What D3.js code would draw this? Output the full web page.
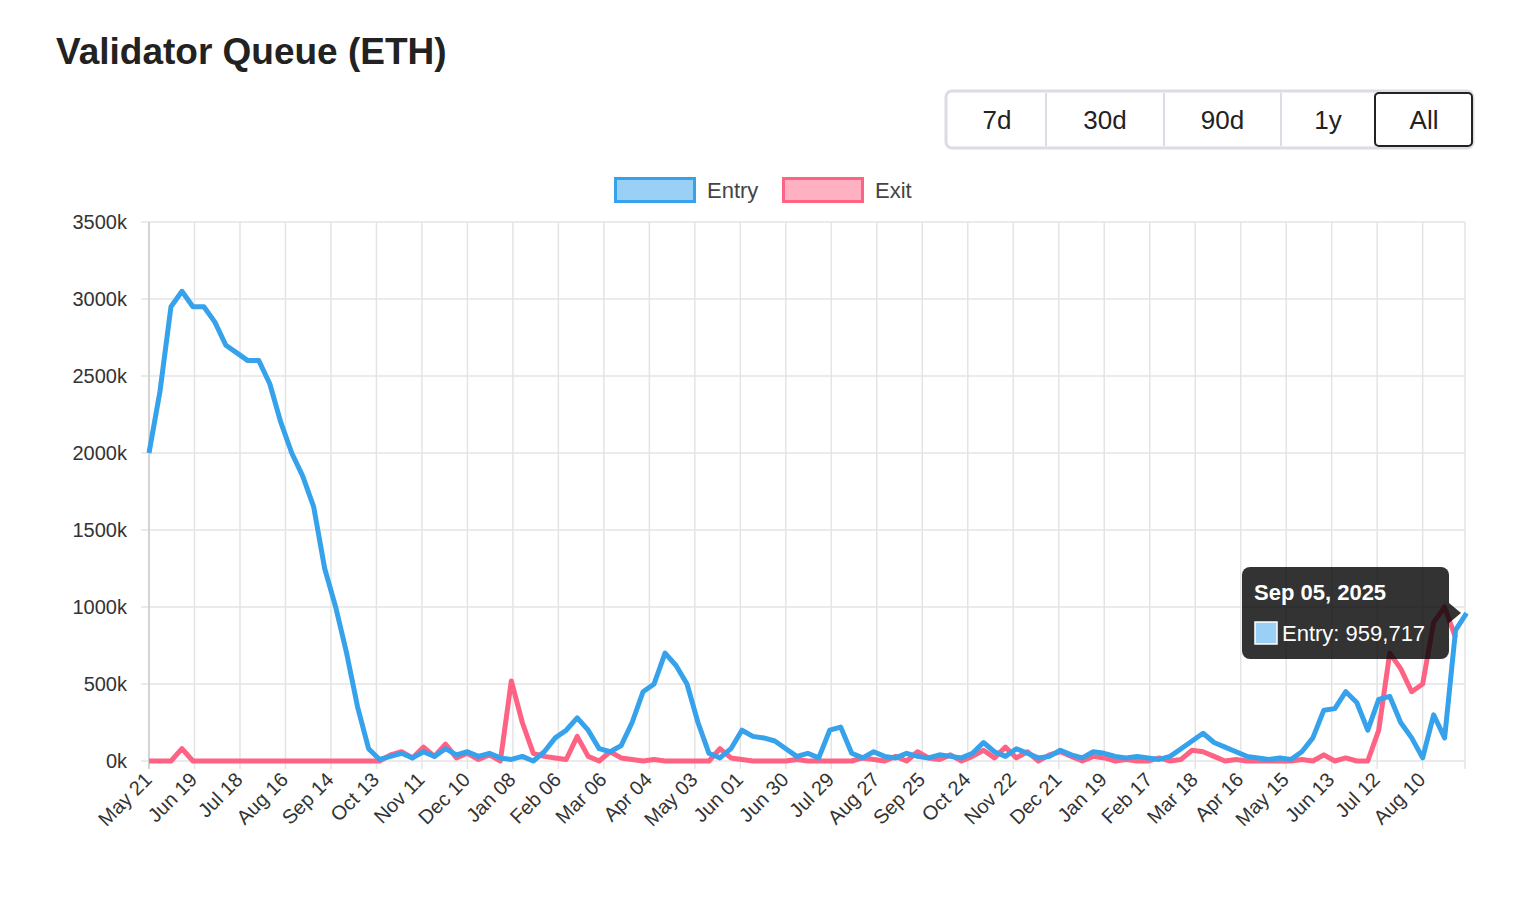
<!DOCTYPE html>
<html><head><meta charset="utf-8">
<script src="https://cdn.jsdelivr.net/npm/d3@7"></script>
<style>body{margin:0;background:#fff;font-family:"Helvetica Neue",Helvetica,Arial,"Liberation Sans",sans-serif;}</style>
</head><body><svg id="c" width="1516" height="898"></svg>
<script>
const startDate = new Date(2023,4,21);
const stepDays = 7;
const entryK = [2000,2400,2950,3050,2950,2950,2850,2700,2650,2600,2600,2450,2200,2000,1850,1650,1250,1000,700,350,80,
10,30,50,20,60,30,80,40,60,30,50,20,10,30,0,60,150,200,280,200,80,60,100,250,450,500,700,620,500,250,50,20,80,200,160,150,130,80,30,50,20,200,220,50,20,60,30,20,50,30,20,40,30,20,50,120,60,30,80,50,20,30,70,40,20,60,50,30,20,30,20,10,30,80,130,180,120,90,60,30,20,10,20,10,60,150,330,340,450,380,200,400,420,250,150,20,300,150,850,960];
const exitK = [0,0,0,80,0,0,0,0,0,0,0,0,0,0,0,0,0,0,0,0,0,
0,40,60,20,90,30,110,20,50,10,40,0,520,250,50,30,20,10,160,30,0,60,20,10,0,10,0,0,0,0,0,80,20,10,0,0,0,0,10,0,0,0,0,0,20,10,0,30,0,60,20,10,40,0,30,70,20,90,20,60,0,40,60,30,0,30,20,0,10,0,0,20,0,10,70,60,30,0,10,0,0,0,0,0,10,0,40,0,20,0,0,200,700,600,450,500,900,1000,800];
const tickLabels = ["May 21","Jun 19","Jul 18","Aug 16","Sep 14","Oct 13","Nov 11","Dec 10","Jan 08","Feb 06","Mar 06","Apr 04","May 03","Jun 01","Jun 30","Jul 29","Aug 27","Sep 25","Oct 24","Nov 22","Dec 21","Jan 19","Feb 17","Mar 18","Apr 16","May 15","Jun 13","Jul 12","Aug 10"];
const yTicks = [0,500,1000,1500,2000,2500,3000,3500];
const ranges = ["7d","30d","90d","1y","All"];

const day = 864e5;
const dates = entryK.map((_,i)=>new Date(+startDate + i*stepDays*day));
const tickDates = tickLabels.map((_,i)=>new Date(+startDate + i*29*day));
const svg = d3.select("#c");
const L=149,R=1465,T=222,B=761;
const x = d3.scaleTime().domain([startDate, new Date(+startDate+839*day)]).range([L,R]);
const y = d3.scaleLinear().domain([0,3500]).range([B,T]);

svg.append("text").attr("x",56).attr("y",64).attr("font-size",37).attr("font-weight",600).attr("fill","#222").text("Validator Queue (ETH)");

const bw=[98,118,117,94,98]; let bx=948;
const bg=svg.append("g");
bg.append("rect").attr("x",946).attr("y",91).attr("width",527).attr("height",57).attr("rx",6).attr("fill","#fff").attr("stroke","#dcdce4").attr("stroke-width",3);
ranges.forEach((r,i)=>{
  if(i>0) bg.append("line").attr("x1",bx).attr("x2",bx).attr("y1",93).attr("y2",146).attr("stroke","#dcdce4").attr("stroke-width",2);
  if(r==="All") bg.append("rect").attr("x",bx).attr("y",93).attr("width",bw[i]-1).attr("height",53).attr("rx",4).attr("fill","#fff").attr("stroke","#222").attr("stroke-width",2);
  bg.append("text").attr("x",bx+bw[i]/2).attr("y",129).attr("text-anchor","middle").attr("font-size",26).attr("fill","#222").text(r);
  bx+=bw[i];
});

[["Entry","#36a2eb","#9ad0f5",614],["Exit","#ff6384","#ffb1c1",782]].forEach(d=>{
  svg.append("rect").attr("x",d[3]+1.5).attr("y",178.5).attr("width",79).attr("height",23).attr("fill",d[2]).attr("stroke",d[1]).attr("stroke-width",3);
  svg.append("text").attr("x",d[3]+93).attr("y",198).attr("font-size",22).attr("fill","#444").text(d[0]);
});

const g=svg.append("g");
tickDates.forEach(t=>g.append("line").attr("x1",x(t)).attr("x2",x(t)).attr("y1",T).attr("y2",B+8).attr("stroke","#e4e4e4").attr("stroke-width",1.5));
g.append("line").attr("x1",R).attr("x2",R).attr("y1",T).attr("y2",B+8).attr("stroke","#e4e4e4").attr("stroke-width",1.5);
yTicks.forEach(v=>{
  g.append("line").attr("x1",L-8).attr("x2",R).attr("y1",y(v)).attr("y2",y(v)).attr("stroke","#e4e4e4").attr("stroke-width",1.5);
  g.append("text").attr("x",127).attr("y",y(v)+7).attr("text-anchor","end").attr("font-size",20).attr("fill","#333").text(v+"k");
});
g.append("line").attr("x1",L).attr("x2",L).attr("y1",T).attr("y2",B+8).attr("stroke","#ccc").attr("stroke-width",1.5);
tickDates.forEach((t,i)=>{
  g.append("text").attr("transform",`translate(${x(t)+4},${B+20}) rotate(-45)`).attr("text-anchor","end").attr("font-size",20).attr("fill","#333").text(tickLabels[i]);
});

const line = d3.line().x((d,i)=>x(dates[i])).y(d=>y(d)).curve(d3.curveLinear);
svg.append("path").attr("d",line(exitK)).attr("fill","none").attr("stroke","#ff6384").attr("stroke-width",5).attr("stroke-linejoin","round");
svg.append("path").attr("d",line(entryK)).attr("fill","none").attr("stroke","#36a2eb").attr("stroke-width",5).attr("stroke-linejoin","round");

const tt=svg.append("g");
tt.append("rect").attr("x",1242).attr("y",567).attr("width",207).attr("height",92).attr("rx",8).attr("fill","rgba(0,0,0,0.8)");
tt.append("path").attr("d","M1449,603 L1461,613 L1449,623Z").attr("fill","rgba(0,0,0,0.8)");
tt.append("text").attr("x",1254).attr("y",600).attr("font-size",22).attr("font-weight",700).attr("fill","#fff").text("Sep 05, 2025");
tt.append("rect").attr("x",1255).attr("y",622).attr("width",22).attr("height",22).attr("fill","#9ad0f5").attr("stroke","#fff").attr("stroke-width",1.5);
tt.append("text").attr("x",1282).attr("y",641).attr("font-size",22).attr("fill","#fff").text("Entry: 959,717");
</script></body></html>
